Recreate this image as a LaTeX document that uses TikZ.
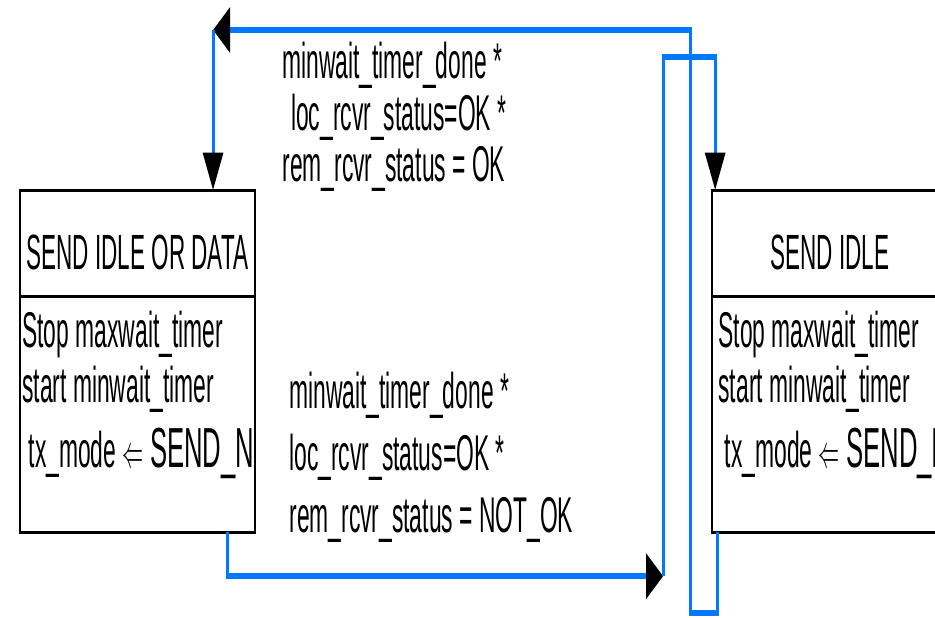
\documentclass[tikz,border=0pt]{standalone}
\usepackage{fontspec}
\setmainfont{Liberation Sans}
\usetikzlibrary{arrows.meta, positioning, calc}
\definecolor{flowblue}{RGB}{0,120,255}

\begin{document}
\begin{tikzpicture}[
  statetitle/.style={rectangle, draw=black, line width=0.8pt, minimum width=4.7cm,
                     minimum height=0.9636cm, inner sep=0pt, outer sep=0pt,
                     text height=13.8pt, text depth=0pt,
                     font=\fontsize{12.8pt}{14pt}\selectfont},
  statebody/.style={rectangle, draw=black, line width=0.8pt, minimum width=4.7cm,
                    minimum height=2.1455cm, inner sep=0pt, outer sep=0pt},
  actions/.style={anchor=north west, inner sep=0pt, align=left,
                  font=\fontsize{13pt}{14.2pt}\selectfont},
  cond/.style={anchor=north west, inner sep=0pt, align=left},
  flow/.style={flowblue, line width=1.7pt,
               -{Triangle[length=3.4mm, width=4mm, color=black]}}
]
  % page
  \useasboundingbox (0,0) rectangle (18.7,-12.36);
  \clip (0,0) rectangle (18.7,-12.36);

  \begin{scope}[x=0.02cm, y=-0.0090909cm, transform canvas={yscale=2.2}]
  % states
  \node[statetitle] (dataidle) at (137.5,243) {SEND IDLE OR DATA};
  \node[statebody, below=0pt of dataidle] (dataidlebody) {};
  \node[statetitle] (idle) at (829.5,243) {SEND IDLE};
  \node[statebody, below=0pt of idle] (idlebody) {};

  \node[actions] (dataidleacts) at ($(dataidlebody.north west)+(2,14)$)
    {Stop maxwait\_timer\\start minwait\_timer\\[2.6pt]\hspace*{3.6pt}tx\_mode $\Leftarrow$ {\fontsize{14.6pt}{14.6pt}\selectfont SEND\_N}};
  \node[actions] (idleacts) at ($(idlebody.north west)+(6,14)$)
    {Stop maxwait\_timer\\start minwait\_timer\\[2.6pt]\hspace*{3.6pt}tx\_mode $\Leftarrow$ {\fontsize{14.6pt}{14.6pt}\selectfont SEND\_I}};

  % transition conditions
  \node[cond, font=\fontsize{13pt}{13.4pt}\selectfont] (okcond) at (282,41)
    {minwait\_timer\_done *\\\hspace*{5pt}loc\_rcvr\_status=OK *\\rem\_rcvr\_status = OK};
  \node[cond, font=\fontsize{13pt}{16pt}\selectfont] (notokcond) at (289,371)
    {minwait\_timer\_done *\\loc\_rcvr\_status=OK *\\rem\_rcvr\_status = NOT\_OK};

  % transitions
  \coordinate (bendtop) at (213,30);
  \coordinate (bendlow) at (663,576);
  \draw[flow] ($(idlebody.south west)+(5,0)$) |- (690,613) |- (bendtop);
  \draw[flow] (bendtop) -- (bendtop |- dataidle.north);
  \draw[flow] ($(dataidlebody.south west)+(207,0)$) |- (bendlow);
  \draw[flow] (bendlow) |- ($(idle.north west)+(3,-133)$) -- ($(idle.north west)+(3,0)$);
  \end{scope}
\end{tikzpicture}
\end{document}
